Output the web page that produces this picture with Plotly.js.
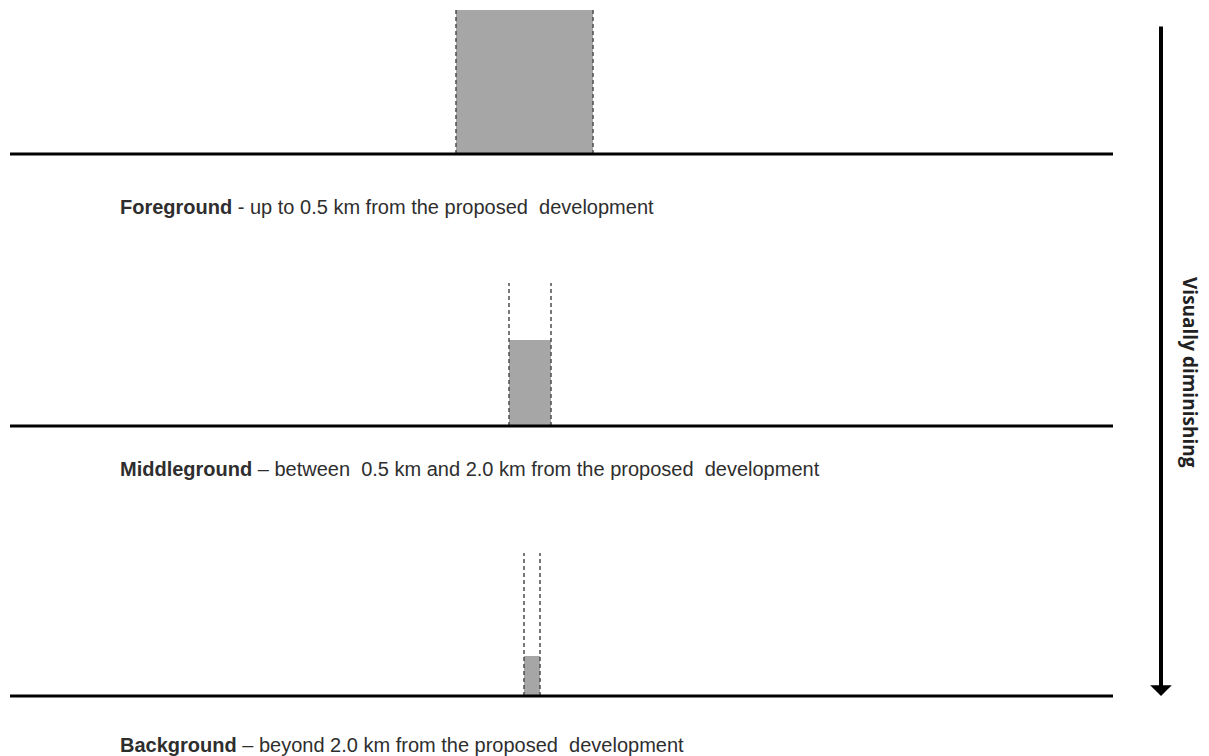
<!DOCTYPE html>
<html><head><meta charset="utf-8">
<script src="https://cdn.plot.ly/plotly-3.0.1.min.js"></script>
<style>html,body{margin:0;padding:0;background:#fff}#c{width:1209px;height:756px}</style>
</head><body><div id="c"></div>
<script>
// Diagram values (in diagram units, page-like coordinates)
const zones = ['Foreground', 'Middleground', 'Background'];
const separators = [' - ', ' \u2013 ', ' \u2013 '];
const descriptions = [
  'up to 0.5 km from the proposed  development',
  'between  0.5 km and 2.0 km from the proposed  development',
  'beyond 2.0 km from the proposed  development'
];
const groundLevel = [154, 426, 696];        // horizon line of each zone
const outlineLeft = [456, 509, 524];        // dashed outline of the development
const outlineRight = [593, 551, 540];
const outlineTop = [10, 283, 553];
const visibleTop = [10, 340, 656];          // top of visible (grey) part
const labelLevel = [207, 469, 745];
const groundStart = 10, groundEnd = 1113;
const arrowX = 1161, arrowTop = 25, arrowBottom = 696;
const arrowLabel = 'Visually diminishing';

const traces = [];
const annotations = [];
for (let i = 0; i < zones.length; i++) {
  traces.push({
    type: 'scatter', mode: 'none', fill: 'toself', fillcolor: '#a6a6a6',
    x: [outlineLeft[i], outlineRight[i], outlineRight[i], outlineLeft[i], outlineLeft[i]],
    y: [groundLevel[i], groundLevel[i], visibleTop[i], visibleTop[i], groundLevel[i]],
    hoverinfo: 'skip', showlegend: false
  });
  [outlineLeft[i], outlineRight[i]].forEach(function (xv) {
    traces.push({
      type: 'scatter', mode: 'lines',
      x: [xv, xv], y: [groundLevel[i], outlineTop[i]],
      line: {color: '#4d4d4d', width: 1.5, dash: '4px,3px'},
      hoverinfo: 'skip', showlegend: false
    });
  });
  traces.push({
    type: 'scatter', mode: 'lines',
    x: [groundStart, groundEnd], y: [groundLevel[i], groundLevel[i]],
    line: {color: '#000', width: 3},
    hoverinfo: 'skip', showlegend: false
  });
  annotations.push({
    x: 118, y: labelLevel[i], xref: 'x', yref: 'y', xanchor: 'left', yanchor: 'middle',
    showarrow: false,
    text: '<b>' + zones[i] + '</b>' + separators[i] + descriptions[i],
    font: {family: 'Liberation Sans, Arial, sans-serif', size: 20, color: '#2e2e2e'}
  });
}
annotations.push({
  x: arrowX, y: arrowBottom, ax: arrowX, ay: arrowTop,
  xref: 'x', yref: 'y', axref: 'x', ayref: 'y',
  showarrow: true, arrowhead: 1, arrowsize: 0.9, arrowwidth: 4, arrowcolor: '#000', text: ''
});
annotations.push({
  x: 1190, y: 372, xref: 'x', yref: 'y', showarrow: false, textangle: 90,
  text: '<b>' + arrowLabel + '</b>',
  font: {family: 'Open Sans, sans-serif', size: 19, color: '#222'}
});

const layout = {
  width: 1209, height: 756,
  margin: {l: 0, r: 0, t: 0, b: 0},
  paper_bgcolor: '#fff', plot_bgcolor: '#fff',
  xaxis: {range: [0, 1209], visible: false, fixedrange: true},
  yaxis: {range: [756, 0], visible: false, fixedrange: true},
  annotations: annotations,
  showlegend: false
};
Plotly.newPlot('c', traces, layout, {displayModeBar: false, staticPlot: true});
</script>
</body></html>
